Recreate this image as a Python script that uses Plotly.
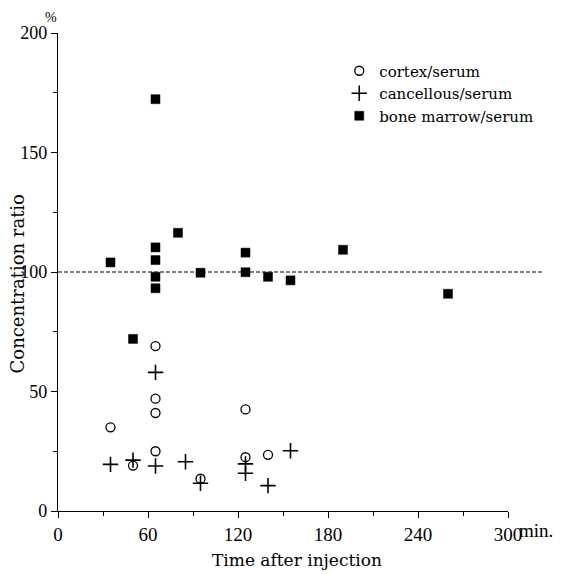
import plotly.graph_objects as go

# Data (time in min, concentration ratio in %)
cortex_t = [35, 50, 65, 65, 65, 65, 95, 125, 125, 140]
cortex_v = [35, 19, 69, 47, 41, 25, 13.5, 42.5, 22.5, 23.5]

cancellous_t = [35, 50, 65, 65, 85, 95, 125, 125, 140, 155]
cancellous_v = [19.5, 21.3, 58, 18.8, 20.6, 11.6, 19.7, 15.8, 10.6, 25.2]

marrow_t = [35, 50, 65, 65, 65, 65, 65, 80, 95, 125, 125, 140, 155, 190, 260]
marrow_v = [104, 72, 172.3, 110.3, 105, 98, 93.2, 116.4, 99.7, 108.1, 99.9, 98, 96.5, 109.3, 90.9]

x_ticks = [0, 60, 120, 180, 240, 300]
y_ticks = [0, 50, 100, 150, 200]
reference_level = 100

SERIF = "Times New Roman"
SERIF2 = "DejaVu Serif"

fig = go.Figure()
fig.add_trace(go.Scatter(
    x=cortex_t, y=cortex_v, mode="markers", name="cortex/serum",
    marker=dict(symbol="circle-open", size=9, color="black", line=dict(width=1.3, color="black")),
))
fig.add_trace(go.Scatter(
    x=cancellous_t, y=cancellous_v, mode="markers", name="cancellous/serum",
    marker=dict(symbol="cross-thin", size=11, color="black", line=dict(width=1.6, color="black")),
))
fig.add_trace(go.Scatter(
    x=marrow_t, y=marrow_v, mode="markers", name="bone marrow/serum",
    marker=dict(symbol="square", size=9, color="black", line=dict(width=0.5, color="black")),
))

fig.add_shape(type="line", xref="paper", yref="y", x0=0, x1=1.075,
              y0=reference_level, y1=reference_level,
              line=dict(color="black", width=1.2, dash="4px,2px"))

fig.add_annotation(text="Time after injection", xref="paper", yref="paper",
                   x=0.53, y=-0.1025, xanchor="center", yanchor="middle",
                   showarrow=False, font=dict(family=SERIF2, size=17, color="black"))
fig.add_annotation(text="Concentration ratio", xref="paper", yref="paper",
                   x=-0.09, y=0.475, xanchor="center", yanchor="middle", textangle=-90,
                   showarrow=False, font=dict(family=SERIF2, size=18, color="black"))
fig.add_annotation(text="%", xref="paper", yref="paper",
                   x=-0.016, y=1.033, xanchor="center", yanchor="middle",
                   showarrow=False, font=dict(family=SERIF, size=14, color="black"))
fig.add_annotation(text="min.", xref="paper", yref="paper",
                   x=1.02, y=-0.04, xanchor="left", yanchor="middle",
                   showarrow=False, font=dict(family=SERIF, size=19, color="black"))

# The page body has an 8px margin, so the figure is sized 8px smaller on the left/top.
fig.update_layout(
    width=557, height=566,
    margin=dict(l=50, r=57, t=25, b=63),
    paper_bgcolor="white", plot_bgcolor="white",
    showlegend=True,
    legend=dict(x=0.625, y=0.955, xanchor="left", yanchor="top",
                bgcolor="rgba(0,0,0,0)", borderwidth=0,
                font=dict(family=SERIF2, size=15, color="black"),
                tracegroupgap=0),
    font=dict(family=SERIF, color="black"),
)
fig.update_xaxes(range=[0, 300], tickvals=x_ticks, ticktext=[str(v) for v in x_ticks],
                 showline=True, linecolor="black", linewidth=1.3,
                 ticks="outside", ticklen=6, tickwidth=1.3, tickcolor="black",
                 minor=dict(dtick=30, ticks="outside", ticklen=4, tickwidth=1.2, tickcolor="black"),
                 showgrid=False, zeroline=False,
                 tickfont=dict(family=SERIF, size=19, color="black"))
fig.update_yaxes(range=[0, 200], tickvals=y_ticks,
                 showline=True, linecolor="black", linewidth=1.3,
                 ticks="outside", ticklen=6, tickwidth=1.3, tickcolor="black",
                 minor=dict(dtick=25, ticks="outside", ticklen=4, tickwidth=1.2, tickcolor="black"),
                 showgrid=False, zeroline=False,
                 tickfont=dict(family=SERIF, size=18, color="black"))

fig.write_html("out.html")
